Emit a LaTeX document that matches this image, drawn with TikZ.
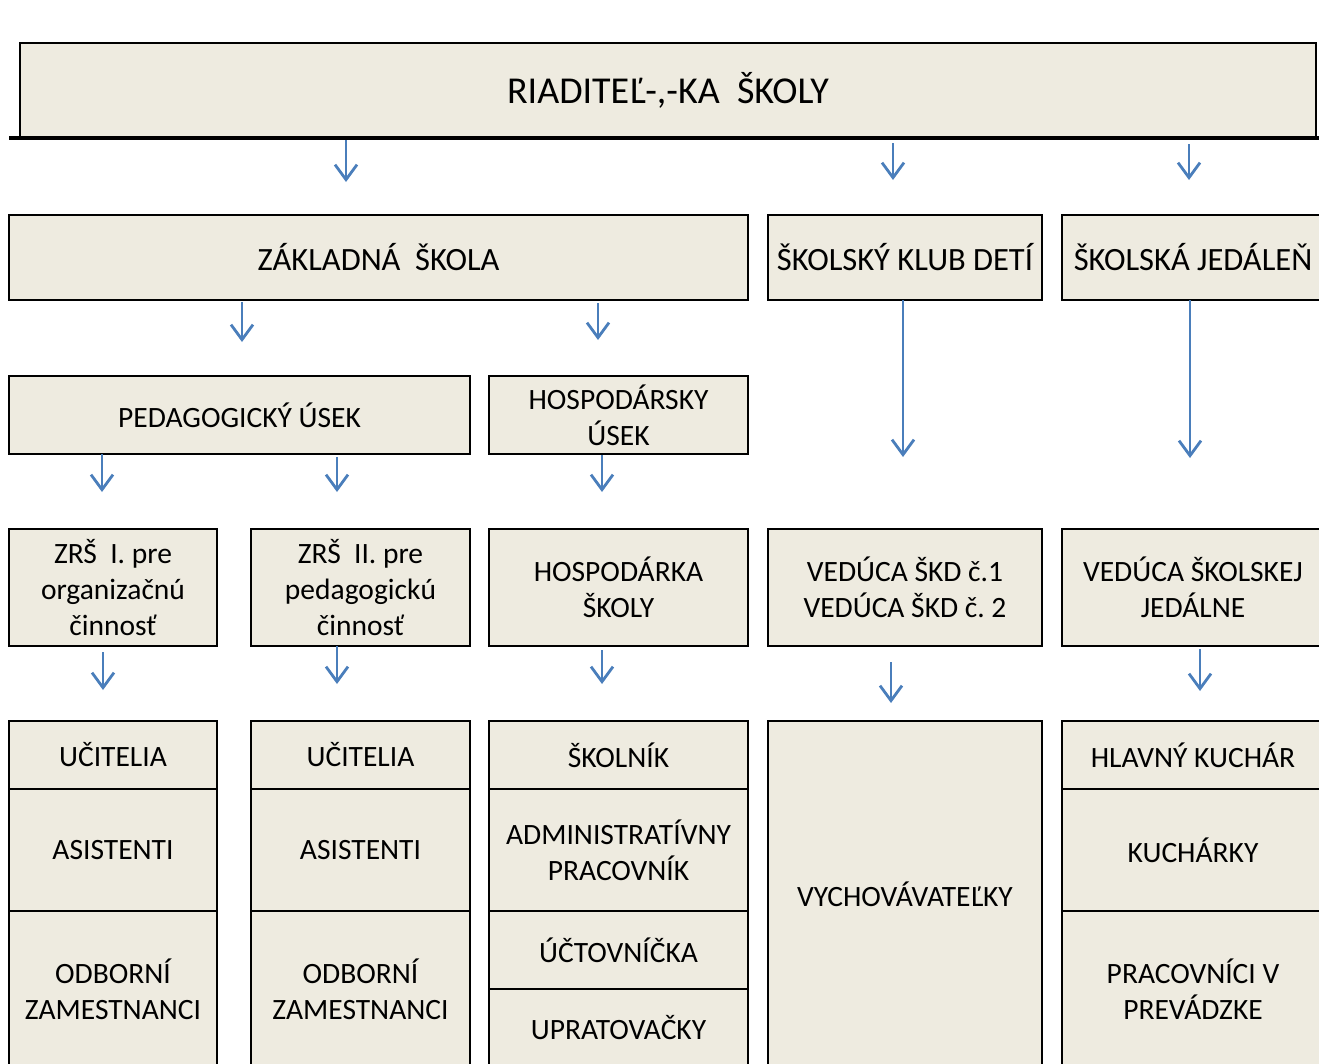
\documentclass[tikz,border=0pt]{standalone}
\usepackage{fontspec}
\setmainfont{Carlito}
\usetikzlibrary{arrows.meta}
\definecolor{boxfill}{HTML}{EEEBE0}
\definecolor{arrblue}{HTML}{4A7EBB}
\newcommand{\bx}[6]{\node[box, minimum width={(#4-#2)*1pt}, minimum height={(#5-#3)*1pt}] (#1) at ({(#2+#4)/2},{(#3+#5)/2}) {#6};}
\newcommand{\ar}[4]{\coordinate (#1s) at (#2,#3); \coordinate (#1e) at (#2,#4); \draw[arr] (#1s) -- (#1e);}
\begin{document}
\begin{tikzpicture}[x=1pt,y=-1pt,
  box/.style={draw=black, line width=2.5pt, fill=boxfill, inner sep=0pt, outer sep=0pt, align=center, font=\fontsize{29.5}{36}\selectfont},
  big/.style={font=\fontsize{32.5}{38}\selectfont},
  arr/.style={draw=arrblue, line width=2.8pt, -{Straight Barb[length=15pt,width=22pt,line width=2.8pt]}}]
\useasboundingbox (0,0) rectangle (1319,1063);
\clip (0,0) rectangle (1319,1063);
% top
\bx{top}{20}{43}{1316}{138}{\fontsize{38}{44}\selectfont RIADITEĽ-,-KA\ \ ŠKOLY}
\draw[line width=4.5pt] (9,138) -- (1319,138);
% row 2
\bx{zs}{9}{215}{748}{300}{\fontsize{32.5}{38}\selectfont ZÁKLADNÁ\ \ ŠKOLA}
\bx{skd}{768}{215}{1042}{300}{\fontsize{32.5}{38}\selectfont ŠKOLSKÝ KLUB DETÍ}
\bx{sj}{1062}{215}{1324}{300}{\fontsize{32.5}{38}\selectfont ŠKOLSKÁ JEDÁLEŇ}
% row 3
\bx{ped}{9}{376}{470}{454}{PEDAGOGICKÝ ÚSEK}
\bx{hosp}{489}{376}{748}{454}{HOSPODÁRSKY\\ÚSEK}
% row 4
\bx{zrs1}{9}{529}{217}{646}{ZRŠ\ \ I. pre\\organizačnú\\činnosť}
\bx{zrs2}{251}{529}{470}{646}{ZRŠ\ \ II. pre\\pedagogickú\\činnosť}
\bx{hk}{489}{529}{748}{646}{HOSPODÁRKA\\ŠKOLY}
\bx{vskd}{768}{529}{1042}{646}{VEDÚCA ŠKD č.1\\VEDÚCA ŠKD č.\ 2}
\bx{vsj}{1062}{529}{1324}{646}{VEDÚCA ŠKOLSKEJ\\JEDÁLNE}
% row 5 col 1
\bx{uc1}{9}{721}{217}{789}{UČITELIA}
\bx{as1}{9}{789}{217}{911}{ASISTENTI}
\bx{od1}{9}{911}{217}{1067}{ODBORNÍ\\ZAMESTNANCI}
% col 2
\bx{uc2}{251}{721}{470}{789}{UČITELIA}
\bx{as2}{251}{789}{470}{911}{ASISTENTI}
\bx{od2}{251}{911}{470}{1067}{ODBORNÍ\\ZAMESTNANCI}
% col 3
\bx{skn}{489}{721}{748}{789}{ŠKOLNÍK}
\bx{adm}{489}{789}{748}{911}{ADMINISTRATÍVNY\\PRACOVNÍK}
\bx{uct}{489}{911}{748}{989}{ÚČTOVNÍČKA}
\bx{upr}{489}{989}{748}{1067}{UPRATOVAČKY}
% col 4
\bx{vych}{768}{721}{1042}{1067}{VYCHOVÁVATEĽKY}
% col 5
\bx{hkuch}{1062}{721}{1324}{789}{HLAVNÝ KUCHÁR}
\bx{kuch}{1062}{789}{1324}{911}{KUCHÁRKY}
\bx{prac}{1062}{911}{1324}{1067}{PRACOVNÍCI V\\PREVÁDZKE}
% arrows
\ar{a1}{346}{140}{182}
\ar{a2}{893}{143}{180}
\ar{a3}{1189}{144}{180}
\ar{a4}{242}{302}{342}
\ar{a5}{598}{303}{340}
\ar{a6}{903}{300}{457}
\ar{a7}{1190}{300}{458}
\ar{a8}{102}{454}{492}
\ar{a9}{337}{457}{492}
\ar{a10}{602}{455}{492}
\ar{a11}{103}{652}{690}
\ar{a12}{337}{646}{684}
\ar{a13}{602}{650}{684}
\ar{a14}{891}{662}{703}
\ar{a15}{1200}{649}{691}
\end{tikzpicture}
\end{document}
